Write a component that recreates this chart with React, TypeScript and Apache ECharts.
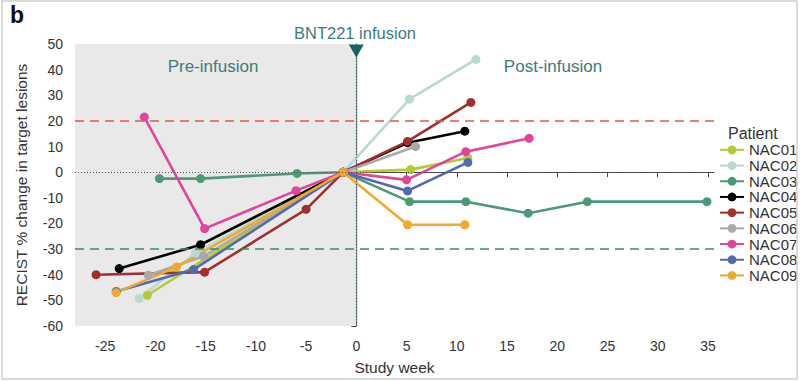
import React, { useEffect, useRef } from "react";
import * as echarts from "echarts";

const patients = ["NAC01", "NAC02", "NAC03", "NAC04", "NAC05", "NAC06", "NAC07", "NAC08", "NAC09"];
const colors = ["#b6cb2d", "#b7d9cf", "#4b9977", "#000000", "#a12f2f", "#a9a9a9", "#e1449b", "#5169b5", "#f0a92e"];

const NAC01 = [[-20.8, -48], [-1.3, 0], [5.4, 1], [11.1, 5.5]];
const NAC02 = [[-21.6, -49.3], [-16, -31.5], [-1.3, 0], [5.3, 28.5], [11.9, 44]];
const NAC03 = [[-19.6, -2.5], [-15.5, -2.5], [-5.9, -0.5], [-1.3, 0], [5.3, -11.5], [10.9, -11.5], [17.1, -16], [23, -11.5], [34.9, -11.5]];
const NAC04 = [[-23.6, -37.6], [-15.5, -28.3], [-1.3, 0], [5.1, 11.5], [10.8, 16]];
const NAC05 = [[-25.9, -40], [-15.1, -39], [-5, -14.5], [-1.3, 0], [5.1, 12], [11.4, 27.2]];
const NAC06 = [[-20.7, -40.2], [-15.2, -32.8], [-1.3, 0], [5.9, 10]];
const NAC07 = [[-21.1, 21.5], [-15.1, -22], [-6, -7.2], [-1.3, 0], [5, -3], [10.9, 8], [17.2, 13.2]];
const NAC08 = [[-23.9, -46.5], [-16.2, -38], [-1.3, 0], [5.1, -7.3], [11.1, 3.8]];
const NAC09 = [[-23.9, -47], [-17.9, -37], [-1.3, 0], [5.1, -20.5], [10.8, -20.5]];
const seriesData = [NAC01, NAC02, NAC03, NAC04, NAC05, NAC06, NAC07, NAC08, NAC09];

const xTicks = [-25, -20, -15, -10, -5, 0, 5, 10, 15, 20, 25, 30, 35];
const xMin = -28;
const xMax = 35.6;
const yMin = -60;
const yMax = 50;
const infusionWeek = 0;
const upperThreshold = 20;
const lowerThreshold = -30;

const FONT = "Liberation Sans, Arial, sans-serif";
const TEAL = "#3c7c7e";

export default function App() {
  const ref = useRef<HTMLDivElement>(null);
  useEffect(() => {
    if (!ref.current) return;
    const chart = echarts.init(ref.current, null, { renderer: "svg" });
    const dataSeries = patients.map((name, i) => ({
      name,
      type: "line",
      data: seriesData[i],
      symbol: "circle",
      symbolSize: 9,
      z: 3,
      lineStyle: { color: colors[i], width: 2.6 },
      itemStyle: { color: colors[i] },
    }));
    const helper = {
      name: "helper",
      type: "line",
      data: [],
      z: 1,
      silent: true,
      markArea: {
        silent: true,
        itemStyle: { color: "#e9e9e9" },
        data: [[{ xAxis: xMin, yAxis: yMax }, { xAxis: infusionWeek, yAxis: yMin }]],
      },
      markLine: {
        silent: true,
        symbol: "none",
        label: { show: false },
        data: [
          { yAxis: upperThreshold, lineStyle: { color: "#dd5a4c", type: [9, 6], width: 1.5 } },
          { yAxis: lowerThreshold, lineStyle: { color: "#3f8b5d", type: [9, 6], width: 1.5 } },
          { yAxis: 0, lineStyle: { color: "#555", type: [1, 2], width: 1 } },
          { xAxis: infusionWeek, lineStyle: { color: "#2a6e70", type: [1, 2], width: 1.3 } },
        ],
      },
      markPoint: {
        silent: true,
        data: [
          {
            coord: [infusionWeek, yMax],
            symbol: "triangle",
            symbolRotate: 180,
            symbolSize: [15, 13],
            symbolOffset: [0, 7],
            itemStyle: { color: "#1d5f62" },
            label: { show: false },
          },
        ],
      },
    };
    chart.setOption({
      animation: false,
      backgroundColor: "#ffffff",
      textStyle: { fontFamily: FONT },
      grid: { left: 75, right: 86, top: 44, bottom: 55 },
      xAxis: {
        type: "value",
        min: xMin,
        max: xMax,
        name: "Study week",
        nameLocation: "middle",
        nameGap: 33,
        nameTextStyle: { fontSize: 15.5, color: "#333", fontFamily: FONT },
        axisLine: { show: true, lineStyle: { color: "#444", width: 1.2 } },
        axisTick: { show: true, length: 5, customValues: xTicks, lineStyle: { color: "#444" } },
        axisLabel: { customValues: xTicks, fontSize: 14, color: "#333", margin: 13, fontFamily: FONT },
        splitLine: { show: false },
      },
      yAxis: {
        type: "value",
        min: yMin,
        max: yMax,
        interval: 10,
        name: "RECIST % change in target lesions",
        nameLocation: "middle",
        nameGap: 46,
        nameTextStyle: { fontSize: 15.5, color: "#333", fontFamily: FONT },
        axisLine: { show: true, lineStyle: { color: "#444", width: 1.2 } },
        axisTick: { show: true, length: 5, lineStyle: { color: "#444" } },
        axisLabel: { fontSize: 14, color: "#333", margin: 12, fontFamily: FONT },
        splitLine: { show: false },
      },
      legend: {
        data: patients,
        orient: "vertical",
        left: 719,
        top: 142,
        padding: 0,
        itemGap: 0,
        itemWidth: 24,
        itemHeight: 11,
        textStyle: { fontSize: 15, color: "#333", lineHeight: 15.7, fontFamily: FONT },
      },
      graphic: [
        { type: "rect", z: 100, shape: { x: 2, y: 1, width: 795, height: 378 }, style: { fill: "none", stroke: "#cfcfcf", lineWidth: 1.5 } },
        { type: "text", z: 100, x: 10, y: 15, style: { text: "b", fontSize: 23, fontWeight: "bold", fill: "#111", verticalAlign: "middle", fontFamily: FONT } },
        { type: "text", z: 100, x: 355, y: 33, style: { text: "BNT221 infusion", fontSize: 16.5, fill: TEAL, align: "center", verticalAlign: "middle", fontFamily: FONT } },
        { type: "text", z: 100, x: 213, y: 66, style: { text: "Pre-infusion", fontSize: 17, fill: TEAL, align: "center", verticalAlign: "middle", fontFamily: FONT } },
        { type: "text", z: 100, x: 553, y: 66, style: { text: "Post-infusion", fontSize: 17, fill: TEAL, align: "center", verticalAlign: "middle", fontFamily: FONT } },
        { type: "text", z: 100, x: 728, y: 133, style: { text: "Patient", fontSize: 16, fill: "#333", verticalAlign: "middle", fontFamily: FONT } },
      ],
      series: [helper, ...dataSeries],
    });
    return () => chart.dispose();
  }, []);
  return <div ref={ref} style={{ position: "absolute", left: 0, top: 0, width: 800, height: 381 }} />;
}
